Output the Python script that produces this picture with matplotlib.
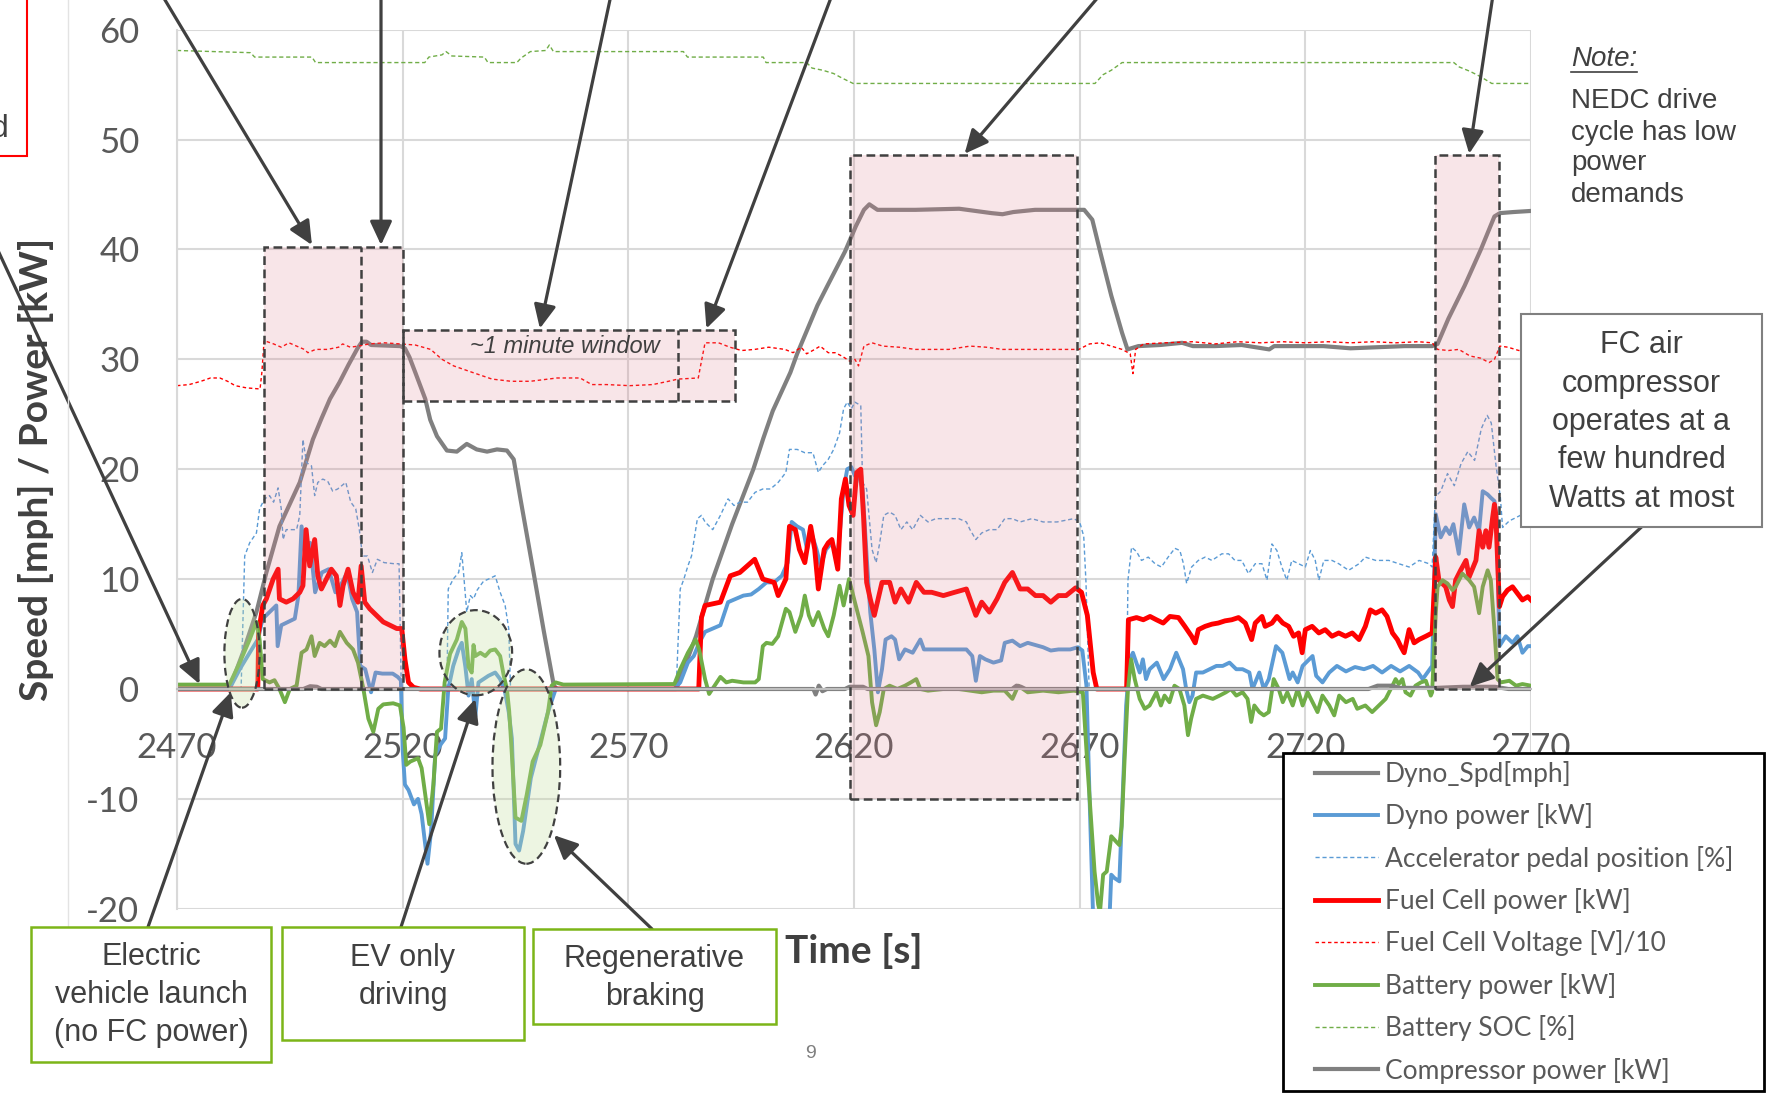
import matplotlib
matplotlib.use("Agg")
import matplotlib.pyplot as plt
from matplotlib.patches import Rectangle, Ellipse
from matplotlib.lines import Line2D

# ---------------- data ----------------
x_ticks = [2470, 2520, 2570, 2620, 2670, 2720, 2770]
y_ticks = [-20, -10, 0, 10, 20, 30, 40, 50, 60]

series_labels = ["Dyno_Spd[mph]", "Dyno power [kW]", "Accelerator pedal position [%]",
                 "Fuel Cell power [kW]", "Fuel Cell Voltage [V]/10", "Battery power [kW]",
                 "Battery SOC [%]", "Compressor power [kW]"]

spd_t = [2470, 2481.6, 2484.6, 2487.6, 2489.8, 2492.7, 2497.2, 2500.1, 2502, 2503.9, 2506, 2508, 2510,
         2511, 2512, 2513, 2519.5, 2520.5, 2521.5, 2522.8, 2525, 2526.1, 2527.6, 2529.8, 2532, 2534.2,
         2536.4, 2538.7, 2540.9, 2543.1, 2544.6, 2546.1, 2549, 2551.3, 2553.5, 2554.2, 2580.6, 2585,
         2588.7, 2593, 2597.7, 2599.9, 2602, 2605.9, 2607.4, 2611.9, 2614, 2616, 2618, 2620.4, 2622.2,
         2623.4, 2625.2, 2633.6, 2643.3, 2646.9, 2650.5, 2652.9, 2655.3, 2660.1, 2671, 2672.8, 2674.6,
         2677, 2679.4, 2680.6, 2683, 2687.8, 2692.7, 2695.1, 2699.9, 2705.9, 2712, 2713.1, 2718, 2724,
         2730, 2736, 2742, 2748.1, 2749.3, 2751.7, 2755.3, 2758.9, 2761.9, 2763.1, 2766.1, 2770]
spd_v = [0, 0, 3.3, 7.0, 10.6, 14.8, 18.8, 22.7, 24.6, 26.4, 27.9, 29.5, 31.0,
         31.6, 31.6, 31.3, 31.2, 31.0, 30.2, 28.8, 26.4, 24.5, 23.0, 21.7, 21.6, 22.3,
         21.8, 21.6, 21.8, 21.7, 20.9, 17.3, 10.6, 5.2, 0.3, 0, 0, 4.8,
         10.0, 15.0, 20.0, 22.8, 25.3, 28.8, 30.5, 34.9, 36.6, 38.2, 39.8, 42.1, 43.6,
         44.1, 43.6, 43.6, 43.7, 43.5, 43.3, 43.2, 43.4, 43.6, 43.6, 42.7, 39.7,
         35.8, 32.4, 30.9, 31.2, 31.3, 31.5, 31.2, 31.2, 31.3, 30.9, 31.2, 31.2, 31.2,
         31.0, 31.1, 31.2, 31.2, 31.4, 33.7, 36.7, 40.0, 43.0, 43.3, 43.4, 43.5]

dyn_t = [2470, 2481.6, 2483.9, 2486.1, 2487.9, 2489, 2490.5, 2492, 2492.3, 2493.1, 2494.6, 2496.1, 2496.9,
         2497.6, 2498.4, 2499.5, 2500.6, 2502.1, 2503.6, 2505.1, 2506.6, 2507.7, 2508.8, 2509.9, 2510.6,
         2511.7, 2513, 2514, 2515.5, 2517.8, 2518.9, 2519.6, 2520, 2520.5, 2521.3, 2522.5, 2523.4, 2524.2,
         2525.5, 2526.3, 2527.2, 2528.5, 2529.4, 2530.1, 2531.2, 2532.4, 2533.1, 2533.9, 2534.6, 2535.3,
         2536.1, 2536.8, 2537.9, 2539, 2540.5, 2541.6, 2542.7, 2543.5, 2544.2, 2545, 2545.8, 2546.7,
         2548.4, 2550.5, 2552.2, 2553.9, 2580.2, 2581.5, 2583.2, 2584.5, 2585.7, 2587, 2588.7, 2590.4,
         2592.1, 2593.8, 2595.5, 2597.2, 2598.9, 2600.6, 2602.3, 2604, 2605.3, 2606.2, 2607.4, 2608.7,
         2609.6, 2610.4, 2611.7, 2612.6, 2613.8, 2615.1, 2616.4, 2617.7, 2618.5, 2619.4, 2620.2, 2621.1,
         2621.9, 2622.8, 2623.6, 2624.5, 2625.3, 2626.2, 2627, 2628.3, 2629.1, 2630, 2631.3, 2633,
         2634.7, 2635.5, 2637.2, 2639.8, 2642.3, 2644.9, 2646.2, 2647, 2647.9, 2649.1, 2650.9, 2652.6,
         2653.4, 2655.1, 2656.8, 2658.5, 2660.2, 2661.9, 2663.6, 2665.3, 2667.9, 2669.6, 2670.6, 2671.5,
         2672.2, 2673, 2676.6, 2677, 2677.7, 2678.8, 2679.6, 2680.3, 2681.1, 2681.8, 2683.3, 2684,
         2684.7, 2685.5, 2687.1, 2688.6, 2690, 2691.4, 2692.9, 2693.6, 2694.3, 2695, 2695.8, 2697.3,
         2698.8, 2700.3, 2701.7, 2703.2, 2704.7, 2706.1, 2707.6, 2708.3, 2709.8, 2710.8, 2711.9, 2713.5,
         2714.9, 2715.7, 2716.5, 2717.2, 2718.3, 2719.4, 2721.6, 2722.4, 2723.8, 2725.3, 2727, 2729,
         2731, 2733, 2735, 2737, 2739, 2741, 2743, 2745, 2746, 2748.1, 2748.9, 2750, 2751.1, 2752,
         2752.8, 2754, 2755.2, 2756.3, 2757.4, 2758.5, 2759.3, 2760.4, 2761.1, 2761.9, 2762.4, 2763,
         2764.4, 2765.9, 2767, 2768.1, 2769.3, 2770]
dyn_v = [0, 0, 1.8, 3.3, 4.5, 6.4, 7.0, 7.6, 3.9, 5.8, 6.1, 6.4, 8.5,
         14.8, 12.1, 13.3, 8.8, 10.6, 10.9, 8.8, 9.7, 10.6, 8.2, 7.0, 2.1,
         1.8, -0.3, 1.5, 1.4, 1.4, 1.1, 0.8, -5.5, -8.7, -9.2, -10.5, -10.0, -11.4,
         -15.9, -12.9, -6.0, -5.0, -4.5, 0, 2.1, 3.6, 4.2, 2.0, -0.6, 0.9,
         -2.5, 0.6, 0.9, 1.2, 1.5, 0.9, -0.3, -2.1, -4.5, -14.1, -14.7, -12.9,
         -8.1, -4.8, -2.1, 0, 0, 0.6, 2.4, 3.0, 4.2, 5.2, 5.5, 5.8,
         7.9, 8.2, 8.5, 8.6, 9.1, 9.7, 9.7, 10.3, 11.5, 15.2, 14.8, 14.5,
         12.7, 14.4, 12.7, 11.2, 12.7, 13.3, 12.1, 18.2, 20.0, 20.2, 19.4, 19.4,
         18.2, 12.1, 7.0, 3.6, -0.3, 1.8, 4.5, 4.8, 4.5, 2.7, 3.6, 3.3,
         4.5, 3.6, 3.6, 3.6, 3.6, 3.6, 3.0, 0.75, 3.0, 2.7, 2.4, 2.6,
         4.2, 4.4, 3.9, 4.2, 4.0, 3.8, 3.5, 3.6, 3.6, 3.8, 3.5, 0.3,
         -10.0, -21.0, -21.0, -16.9, -17.2, -17.5, -9.0, -1.5, 2.7, 3.3, 1.5, 2.7,
         0.9, 1.8, 2.4, 0.9, 1.8, 3.3, 1.8, 0, -1.2, -0.6, 1.5, 1.5,
         1.8, 2.1, 2.1, 2.4, 1.8, 1.8, 1.5, 0, 1.5, 0, 0.9, 3.9,
         3.3, 2.1, 0.9, 1.5, 0.6, 2.1, 3.0, 1.2, 0.6, 1.5, 2.1, 1.6,
         2.0, 1.8, 2.1, 1.5, 2.1, 1.6, 2.1, 1.5, 0.9, 2.1, 15.9, 13.8, 14.7, 14.1,
         15.0, 12.3, 16.8, 14.7, 15.6, 14.4, 18.0, 17.7, 17.4, 17.1, 15.5, 3.9,
         4.8, 4.2, 4.8, 3.3, 3.9, 3.9]

ped_t = [2470, 2484.2, 2485, 2486.1, 2487.6, 2488.3, 2489.4, 2490.5, 2491.4, 2492.4, 2493.1, 2493.5,
         2494.2, 2496.5, 2497.2, 2497.9, 2498.7, 2499.8, 2500.5, 2501.2, 2502.3, 2503.4, 2504.5, 2505.6,
         2507.4, 2508.5, 2509.6, 2510.4, 2511.1, 2512.2, 2513.3, 2514.4, 2515.9, 2518.1, 2519.2, 2519.7,
         2529.8, 2530.1, 2531.2, 2532.4, 2533.1, 2533.6, 2534.2, 2535, 2535.7, 2536.5, 2537.9, 2539,
         2540.5, 2541.6, 2542.7, 2543.5, 2543.9, 2580.6, 2581.5, 2582.3, 2583.2, 2584, 2585.3, 2586.2,
         2587, 2588.7, 2590.4, 2592.1, 2593.4, 2594.7, 2596.4, 2598.1, 2599.8, 2601.5, 2603.2, 2604.9,
         2605.7, 2607.4, 2609.1, 2610.9, 2612.1, 2613, 2614.3, 2615.5, 2616.8, 2617.7, 2618.5, 2619.4,
         2620.2, 2621.5, 2621.9, 2622.8, 2624, 2624.9, 2625.7, 2626.6, 2627.9, 2629.1, 2630.4, 2631.7,
         2633, 2634.7, 2636.4, 2638.1, 2640, 2643.2, 2644.9, 2645.7, 2647, 2648.3, 2650, 2651.7,
         2653.4, 2655.1, 2656.8, 2659.4, 2661.9, 2665, 2668.7, 2670, 2670.9, 2671.4, 2672.1, 2680.4,
         2680.7, 2681.5, 2682.6, 2683.7, 2685.2, 2686.7, 2688.1, 2689.6, 2691.1, 2692.2, 2693, 2693.7,
         2694.8, 2696.3, 2697.8, 2699.3, 2701.5, 2703, 2704.4, 2705.9, 2707.4, 2708.9, 2710.4, 2711.5,
         2712.6, 2713.7, 2714.8, 2715.9, 2717, 2718.5, 2720, 2721.1, 2722.2, 2723, 2724.1, 2725.9,
         2727.4, 2729.6, 2731.9, 2733.3, 2735.6, 2738.5, 2740.7, 2743, 2745.2, 2747.4, 2748.1, 2748.8,
         2750, 2751.5, 2753, 2754.5, 2756, 2757.5, 2759, 2760.3, 2761.2, 2762.2, 2763.2, 2763.7,
         2765.2, 2766.7, 2768.1, 2770]
ped_v = [0, 0, 12.1, 13.3, 14.2, 16.4, 17.3, 17.6, 17.0, 18.3, 16.4, 13.6,
         14.5, 14.5, 15.8, 22.7, 20.6, 20.3, 17.6, 18.8, 19.1, 18.9, 18.0, 18.2,
         18.8, 17.0, 16.4, 14.5, 12.1, 12.1, 10.6, 11.8, 11.5, 11.4, 11.4, 0,
         0, 9.1, 10.0, 10.6, 12.4, 10.0, 7.0, 8.5, 8.2, 9.0, 9.8, 10.0,
         10.3, 8.8, 7.6, 5.5, 0, 0, 9.1, 10.0, 11.2, 12.1, 15.5, 15.8,
         15.2, 14.5, 15.8, 17.3, 16.7, 17.0, 17.0, 17.9, 18.2, 18.2, 18.8, 19.7,
         21.8, 21.8, 21.5, 21.5, 19.7, 20.3, 20.9, 21.8, 23.3, 25.5, 26.1, 25.5,
         26.1, 25.8, 18.8, 18.2, 12.7, 11.5, 13.3, 15.8, 16.1, 15.8, 14.5, 15.2,
         14.5, 15.8, 15.2, 15.5, 15.5, 15.5, 15.2, 14.5, 13.6, 14.2, 14.5, 14.5,
         15.5, 15.5, 15.2, 15.5, 15.2, 15.2, 15.5, 15.2, 13.9, 9.7, 0, 0,
         9.9, 12.9, 12.5, 11.7, 12.0, 11.4, 11.1, 12.0, 12.8, 12.6, 11.4, 9.6,
         11.1, 11.7, 12.0, 11.7, 12.3, 12.3, 11.7, 11.7, 10.5, 11.4, 11.4, 9.9,
         13.2, 12.6, 11.1, 9.9, 11.7, 11.4, 11.1, 12.6, 11.7, 9.9, 11.7, 11.7,
         11.4, 10.8, 11.4, 12.0, 11.7, 11.7, 11.4, 11.1, 11.7, 11.4, 11.1, 17.5,
         18.0, 19.6, 18.5, 20.5, 21.6, 20.8, 23.7, 24.9, 24.2, 20.5, 17.5, 14.7,
         15.3, 15.6, 15.9, 15.9]

fc_t = [2470, 2487.9, 2488.1, 2489, 2489.8, 2491.3, 2492.4, 2492.7, 2494.2, 2495.7, 2497.2, 2497.9,
        2498.6, 2499.4, 2500.5, 2501.2, 2502, 2503.1, 2504.2, 2505.3, 2506.1, 2506.8, 2507.9, 2509,
        2510.1, 2510.8, 2511.6, 2512.7, 2514.2, 2515.7, 2517.2, 2518.7, 2519.8, 2520.5, 2521.3, 2522.4,
        2523.9, 2585.6, 2586.2, 2587, 2590.4, 2592.6, 2594.7, 2598, 2599.8, 2602.3, 2603.2, 2604.9,
        2605.7, 2607, 2607.9, 2609.1, 2610.4, 2611.3, 2612.1, 2613.4, 2614.3, 2615.1, 2616.4, 2617.2,
        2618.1, 2618.9, 2619.8, 2620.6, 2621.5, 2622.1, 2622.8, 2623.6, 2624.5, 2626.2, 2627.9, 2629.1,
        2630.4, 2632.1, 2633.8, 2635.5, 2637.2, 2639.8, 2642.3, 2644.9, 2647, 2648.3, 2650, 2651.7,
        2653.4, 2655.1, 2656.8, 2658.5, 2660.2, 2661.9, 2663.6, 2665.3, 2667, 2669.1, 2670.4, 2671.7,
        2673, 2673.8, 2680.4, 2680.8, 2682.6, 2684.1, 2685.6, 2687, 2688.5, 2690, 2691.9, 2693.3,
        2694.8, 2695.6, 2696.3, 2697.8, 2699.3, 2700.7, 2702.2, 2703.7, 2705.2, 2706.7, 2708.1, 2708.9,
        2710.4, 2711.1, 2712.6, 2713.7, 2715, 2716.3, 2717.4, 2718.5, 2719.3, 2720, 2721.5, 2723,
        2724.4, 2725.9, 2727.4, 2728.9, 2730.4, 2731.9, 2733.3, 2734.4, 2735.6, 2737, 2738.1, 2739.3,
        2740.4, 2741.1, 2741.9, 2743, 2744.1, 2745.2, 2746.7, 2748.1, 2748.9, 2749.6, 2751.1, 2751.9,
        2752.6, 2753.3, 2754.4, 2755.6, 2756.3, 2757.8, 2758.5, 2759.3, 2760, 2760.7, 2761.5, 2761.9,
        2762.2, 2763, 2763.7, 2764.8, 2765.9, 2767, 2768.1, 2769.3, 2770]
fc_v = [0, 0, 5.2, 7.6, 8.2, 10.0, 10.9, 8.2, 7.9, 8.2, 8.8, 9.4,
        14.5, 11.2, 13.6, 10.3, 9.1, 10.0, 10.9, 10.3, 7.6, 9.4, 10.9, 8.8,
        7.9, 11.2, 7.9, 7.3, 6.7, 6.1, 5.8, 5.5, 5.5, 2.7, 0.6, 0.15,
        0, 0, 6.5, 7.6, 7.9, 10.3, 10.6, 11.8, 10.0, 9.7, 8.5, 10.0,
        14.8, 14.5, 12.7, 11.5, 14.8, 12.7, 9.1, 12.7, 13.3, 13.6, 10.9, 17.3,
        19.1, 16.7, 15.8, 19.7, 20.0, 15.8, 9.7, 8.2, 6.7, 9.7, 9.7, 7.9,
        9.1, 7.9, 9.7, 8.8, 8.8, 8.5, 8.8, 9.1, 6.7, 7.9, 7.0, 8.2,
        9.7, 10.6, 9.1, 9.1, 8.5, 8.5, 7.9, 8.5, 8.5, 9.2, 8.8, 6.7,
        1.5, 0, 0, 6.3, 6.5, 6.3, 6.6, 6.3, 6.0, 6.6, 6.5, 5.7,
        4.8, 4.2, 5.4, 5.7, 5.9, 6.0, 6.2, 6.3, 6.5, 6.0, 4.5, 6.0,
        6.6, 5.7, 6.0, 6.6, 6.0, 5.7, 4.8, 5.1, 3.3, 5.4, 5.7, 5.1,
        5.4, 4.8, 5.1, 4.8, 5.1, 4.5, 5.7, 7.2, 6.9, 7.2, 6.6, 5.1,
        4.5, 3.9, 3.3, 5.4, 4.2, 4.5, 4.8, 5.1, 12.0, 9.9, 9.3, 8.1,
        7.5, 9.9, 10.8, 11.7, 10.2, 11.7, 14.4, 12.9, 14.4, 12.9, 15.6, 16.8,
        15.9, 7.5, 8.4, 9.0, 9.3, 8.7, 8.1, 8.4, 8.1]

vol_t = [2470, 2472.7, 2475.3, 2477.4, 2479.5, 2481.2, 2482.9, 2485.4, 2488.4, 2488.8, 2489.3, 2491.4,
         2493.1, 2494.8, 2496.5, 2498.2, 2499, 2500.7, 2503.3, 2505.8, 2506.7, 2508.4, 2510.1, 2512.6,
         2516, 2519.4, 2522.8, 2526.2, 2528.7, 2531.3, 2535.5, 2539.8, 2544, 2548.3, 2554.2, 2559.3,
         2561.9, 2565.2, 2570.3, 2575.4, 2578.9, 2581, 2585.5, 2586, 2587, 2590, 2592.5, 2595.1,
         2598, 2601.1, 2604.7, 2606.5, 2608.3, 2609.5, 2611.3, 2612.5, 2614.3, 2615.8, 2617.3, 2619.2,
         2620.2, 2621, 2622.2, 2624, 2626.4, 2630, 2633.6, 2637.2, 2641, 2645.7, 2649.3, 2652.9,
         2657.7, 2662.5, 2667.3, 2669.8, 2672.2, 2674.6, 2677, 2679.4, 2681.2, 2681.8, 2682.4, 2684.2,
         2689, 2695, 2700, 2705, 2710, 2715, 2720, 2725, 2730, 2735, 2740, 2745,
         2748.1, 2749.3, 2751.7, 2754, 2756.5, 2758.9, 2760.7, 2761.9, 2763.1, 2764.9, 2767.3, 2770]
vol_v = [27.6, 27.7, 28.0, 28.3, 28.3, 28.0, 27.6, 27.4, 27.3, 28.8, 31.7, 31.4,
         31.1, 31.5, 31.2, 30.9, 30.6, 30.9, 30.9, 31.1, 31.4, 31.1, 31.2, 31.4,
         31.5, 31.4, 31.3, 30.9, 30.0, 29.4, 28.8, 28.2, 28.0, 28.0, 28.3, 28.3,
         27.7, 27.7, 27.6, 27.7, 28.0, 28.2, 28.3, 29.4, 31.5, 31.5, 31.1, 30.8,
         30.9, 31.1, 30.9, 30.6, 31.1, 30.5, 30.9, 31.2, 30.6, 30.6, 30.3, 29.8,
         30.0, 29.4, 31.2, 31.5, 31.2, 31.1, 30.9, 30.9, 30.9, 31.2, 31.1, 30.9,
         30.9, 30.9, 30.9, 30.9, 31.4, 31.5, 31.2, 30.9, 30.5, 28.7, 30.9, 31.4,
         31.5, 31.6, 31.4, 31.6, 31.5, 31.6, 31.5, 31.6, 31.5, 31.6, 31.5, 31.6,
         31.5, 30.9, 30.8, 30.9, 30.3, 30.1, 29.7, 30.0, 31.2, 31.1, 30.8, 30.9]

bat_t = [2470, 2481.6, 2483.9, 2486.1, 2487.6, 2488.3, 2489, 2490.5, 2491.6, 2492.7, 2493.9, 2495,
         2496.5, 2497.6, 2498.7, 2499.8, 2500.5, 2501.6, 2502.7, 2503.9, 2505, 2506.1, 2507.6, 2509,
         2510.1, 2511.3, 2512.4, 2513.5, 2514.6, 2515.7, 2517.9, 2519.4, 2520.2, 2520.8, 2521.7, 2523.4,
         2524.2, 2525.1, 2525.9, 2526.8, 2527.6, 2528.5, 2529.3, 2530.5, 2532, 2533.1, 2533.9, 2534.6,
         2535.3, 2535.7, 2536.1, 2537.2, 2538.3, 2539.4, 2540.5, 2541.6, 2542.4, 2543.1, 2543.6, 2544.2,
         2545, 2546.3, 2547.5, 2548.8, 2550.5, 2552.2, 2553, 2553.9, 2555.6, 2580.2, 2581.5, 2583.2,
         2584.9, 2585.7, 2587, 2587.9, 2589.1, 2590.4, 2591.7, 2593, 2595.5, 2598.1, 2598.9, 2599.8,
         2600.6, 2601.9, 2603.2, 2604.9, 2605.7, 2607, 2608.3, 2609.1, 2610, 2610.9, 2612.1, 2613.4,
         2614.3, 2615.5, 2616.8, 2617.7, 2618.9, 2620.2, 2621.9, 2623.2, 2624, 2624.9, 2625.7, 2626.6,
         2627.9, 2629.6, 2631.3, 2632.6, 2633.8, 2634.7, 2636.4, 2639.8, 2643.2, 2645.7, 2648.3, 2650.9,
         2653.4, 2655.1, 2656.4, 2658.5, 2661.9, 2665.3, 2668.7, 2670.7, 2671.8, 2672.6, 2673.3, 2674.1,
         2674.5, 2675.2, 2676, 2677, 2678.1, 2678.8, 2679.3, 2680, 2680.7, 2681.4, 2682.2, 2683.3,
         2684.4, 2685.5, 2687, 2688, 2688.8, 2689.9, 2691, 2692.1, 2693.2, 2694, 2694.7, 2695.8,
         2697.3, 2699.5, 2701, 2702.4, 2703.5, 2704.7, 2706.1, 2707.2, 2708, 2708.7, 2709.8, 2710.8,
         2711.9, 2713, 2714.1, 2715, 2716, 2717.2, 2718.3, 2719.4, 2720.5, 2721.6, 2722.7, 2723.8,
         2725.3, 2726.4, 2727.5, 2729, 2730.5, 2731.5, 2733.3, 2734.8, 2736.3, 2737.8, 2739.3, 2740,
         2740.7, 2741.5, 2742.2, 2743.3, 2744.4, 2745.6, 2746.7, 2747.8, 2748.1, 2748.9, 2749.3, 2750.4,
         2751.5, 2752.6, 2753.3, 2754.8, 2756.3, 2757.4, 2758.5, 2759.3, 2760.4, 2761.1, 2761.9, 2762.6,
         2763.3, 2765.2, 2766.7, 2768.1, 2770]
bat_v = [0.4, 0.4, 2.4, 4.5, 6.1, 4.5, 0.9, 0.6, 0.8, 0, -1.2, 0,
         0.3, 3.3, 3.6, 4.8, 3.0, 4.2, 3.9, 4.4, 3.9, 5.2, 4.2, 3.6,
         2.4, 0, -2.7, -3.9, -1.8, -1.4, -1.3, -1.5, -3.5, -6.9, -6.6, -6.3,
         -7.2, -9.9, -12.3, -8.7, -3.9, -3.6, 0.6, 3.2, 4.5, 6.1, 5.5, 2.0,
         1.5, 4.0, 3.0, 3.3, 3.0, 3.5, 3.6, 3.0, 1.2, 0, -2.0, -6.0,
         -11.7, -12.0, -9.6, -6.6, -5.1, -2.1, 0.3, 0.6, 0.4, 0.45, 1.8, 3.3,
         4.5, 3.6, 0.9, -0.45, 0.3, 1.1, 0.6, 0.75, 0.6, 0.6, 0.9, 3.9,
         4.2, 4.1, 4.8, 7.3, 7.0, 5.2, 6.7, 8.5, 6.7, 5.8, 7.0, 5.5,
         4.8, 6.7, 9.4, 7.6, 10.0, 7.9, 5.2, 3.0, -1.2, -3.3, -2.1, 0,
         0.3, 0, 0.3, 0.6, 0.9, 0, -0.15, 0, 0, -0.15, -0.3, -0.15,
         -0.15, -0.9, 0.3, -0.3, -0.15, -0.3, -0.15, -0.3, -7.5, -12.4, -16.6, -19.6,
         -20.3, -16.9, -16.6, -13.4, -13.9, -14.2, -12.5, -6.0, 0, 2.7, 0.9, -0.9,
         -1.8, -1.5, -0.3, -1.5, -0.6, -1.2, 0.3, 0, -1.5, -4.2, -2.7, -0.9,
         -0.6, -0.9, -0.6, -0.3, 0, -0.6, -0.3, -0.9, -3.0, -1.5, -2.1, -2.4,
         -2.1, 0.9, 0, -1.2, -0.3, -1.5, 0, -1.5, -0.3, -1.2, -2.1, -0.6,
         -1.5, -2.4, -0.6, -1.2, -0.9, -1.8, -1.5, -2.1, -1.5, -0.9, 0.3, 0.9,
         0.45, 0.9, -0.3, -0.6, 0.3, 0.6, 0.75, -0.6, -0.3, 6.9, 9.3, 9.9,
         9.6, 9.0, 9.3, 10.5, 9.9, 9.3, 6.9, 9.3, 10.8, 9.9, 5.4, 0.9,
         0.6, 0.75, 0.3, 0.45, 0.3]

soc_t = [2470, 2486.3, 2487.2, 2499.9, 2500.7, 2524.9, 2525.8, 2528.7, 2529.6, 2530.9, 2538.1, 2538.9,
         2545.3, 2546.2, 2548.3, 2551.7, 2552.5, 2553.4, 2582.2, 2583.1, 2599.9, 2600.5, 2609.5, 2610.7,
         2613.1, 2615.5, 2617.3, 2619.8, 2673.4, 2675.2, 2677, 2679.4, 2752.9, 2754.1, 2756.5, 2758.9,
         2761.3, 2770]
soc_v = [58.1, 57.9, 57.5, 57.5, 57.0, 57.0, 57.5, 57.7, 58.0, 57.6, 57.5, 57.0,
         57.0, 57.4, 58.0, 58.1, 58.6, 58.0, 58.0, 57.5, 57.5, 57.0, 57.0, 56.5,
         56.3, 56.0, 55.6, 55.1, 55.1, 55.9, 56.3, 57.0, 57.0, 56.6, 56.2, 55.7,
         55.1, 55.1]

cmp_t = [2470, 2498, 2499.5, 2501, 2502, 2611, 2611.5, 2612.2, 2613, 2614, 2618, 2619, 2622, 2623,
         2655, 2656, 2657, 2658, 2734, 2736, 2739, 2741, 2749, 2755, 2762, 2765, 2770]
cmp_v = [0, 0, 0.25, 0.2, 0, 0, -0.5, 0.3, -0.2, 0, 0, 0.2, 0.2, 0,
         0, 0.3, 0.2, 0, 0, 0.3, 0.3, 0.1, 0.1, 0.2, 0.2, 0, 0]

# ---------------- styling / layout ----------------
W, H, DPI = 1768, 1095, 100
GRAY, BLUE, RED, GREEN = "#808080", "#5b9bd5", "#ff0000", "#70ad47"
DARK = "#404040"
ARIAL = ["Liberation Sans", "DejaVu Sans"]
plt.rcParams["font.family"] = ["Lato", "DejaVu Sans"]
plt.rcParams["axes.unicode_minus"] = False


def fx(x):
    return x / W


def fy(y):
    return 1 - y / H


fig = plt.figure(figsize=(W / DPI, H / DPI), dpi=DPI)
fig.patch.set_facecolor("white")
ax = fig.add_axes([fx(177), fy(908.8), fx(1531) - fx(177), fy(29.6) - fy(908.8)])
ax.set_xlim(2470, 2770)
ax.set_ylim(-20, 60)
ax.set_xticks(x_ticks)
ax.set_yticks(y_ticks)
ax.grid(True, color="#d9d9d9", lw=1.5)
ax.set_axisbelow(True)
for s in ["top", "right"]:
    ax.spines[s].set_visible(False)
ax.spines["left"].set_color("#d9d9d9")
ax.spines["left"].set_linewidth(1.5)
ax.spines["bottom"].set_position(("data", 0))
ax.spines["bottom"].set_color("#bfbfbf")
ax.spines["bottom"].set_linewidth(1.5)
ax.tick_params(length=0, labelsize=25, labelcolor="#595959")
ax.tick_params(axis="x", pad=31)
ax.tick_params(axis="y", pad=27)

styles = [dict(color=GRAY, lw=3.0),
          dict(color=BLUE, lw=2.8),
          dict(color=BLUE, lw=1.0, ls=(0, (3, 2))),
          dict(color=RED, lw=3.5),
          dict(color=RED, lw=1.0, ls=(0, (2.5, 2))),
          dict(color=GREEN, lw=2.8),
          dict(color=GREEN, lw=1.0, ls=(0, (3, 2))),
          dict(color=GRAY, lw=3.0)]
series = [(spd_t, spd_v), (dyn_t, dyn_v), (ped_t, ped_v), (fc_t, fc_v),
          (vol_t, vol_v), (bat_t, bat_v), (soc_t, soc_v), (cmp_t, cmp_v)]
handles = []
for (tt, vv), st, lab in zip(series, styles, series_labels):
    ln, = ax.plot(tt, vv, label=lab, zorder=2, **st)
    handles.append(ln)

# pink highlight boxes (semi-transparent, on top of data) with dashed borders
PINK = (220 / 255, 125 / 255, 140 / 255, 0.2)
DASH = (0, (3.5, 1.8))
boxes = [(2489.3, 2520, 0, 40.24), (2520, 2593.7, 26.2, 32.7),
         (2619.2, 2669.3, -10, 48.6), (2748.7, 2763, 0, 48.6)]
for x0, x1, y0, y1 in boxes:
    ax.add_patch(Rectangle((x0, y0), x1 - x0, y1 - y0, facecolor=PINK, edgecolor="none", zorder=3))
    ax.add_patch(Rectangle((x0, y0), x1 - x0, y1 - y0, facecolor="none", edgecolor=DARK,
                           lw=1.8, ls=DASH, zorder=4))
for xd, y0, y1 in [(2510.8, 0, 40.24), (2581.0, 26.2, 32.7)]:
    ax.plot([xd, xd], [y0, y1], color=DARK, lw=1.8, ls=DASH, zorder=4)
ax.text(2555.9, 31.2, "~1 minute window", style="italic", family=ARIAL, fontsize=17,
        color=DARK, ha="center", va="center", zorder=5)

# green ellipses
GFILL = (198 / 255, 222 / 255, 162 / 255, 0.3)
for cx, cy, w, h in [(2484.4, 3.25, 7.8, 9.9), (2536.2, 3.3, 16.1, 7.75), (2547.4, -7.05, 15, 17.7)]:
    ax.add_patch(Ellipse((cx, cy), w, h, facecolor=GFILL, edgecolor=DARK, lw=1.6,
                         ls=(0, (3.5, 2)), zorder=4))

# arrows: (tail in top-left figure pixels, tip in data)
arrows = [((162, -5), (2499.9, 40.4)), ((381, -5), (2515.2, 40.4)), ((611, -5), (2550.4, 32.8)),
          ((832, -5), (2587.3, 32.8)), ((1100, -5), (2644.5, 48.7)), ((1493, -5), (2756.3, 48.7)),
          ((-5, 244), (2475, 0.45)), ((148, 927), (2481.9, -0.3)), ((401, 927), (2536.1, -0.9)),
          ((652, 929), (2553.5, -13.3)), ((1641.5, 527), (2756.4, 0.2))]
for (px, py), tip in arrows:
    ax.annotate("", xy=tip, xycoords="data", xytext=(px, H - py), textcoords="figure pixels",
                arrowprops=dict(arrowstyle="-|>,head_length=0.9,head_width=0.42", color=DARK,
                                lw=2.3, mutation_scale=16, shrinkA=0, shrinkB=0),
                annotation_clip=False, zorder=6)

# axis titles
fig.text(fx(36), fy(469), "Speed [mph] / Power [kW]", rotation=90, ha="center", va="center",
         fontsize=28, fontweight="bold", color=DARK)
fig.text(fx(853.6), fy(950.6), "Time [s]", ha="center", va="center", fontsize=28,
         fontweight="bold", color=DARK)


def fig_box(x0, y0, x1, y1, ec, lw=1.8):
    fig.patches.append(Rectangle((fx(x0), fy(y1)), fx(x1) - fx(x0), fy(y0) - fy(y1),
                                 transform=fig.transFigure, facecolor="white", edgecolor=ec,
                                 lw=lw, zorder=4.5))


BOXGREEN = "#7cb518"
LS = 1.36
fig_box(31, 927, 271, 1062, BOXGREEN)
fig.text(fx(151), fy(995), "Electric\nvehicle launch\n(no FC power)", ha="center", va="center",
         family=ARIAL, fontsize=22, color=DARK, linespacing=LS, zorder=6)
fig_box(282, 927, 524, 1040, BOXGREEN)
fig.text(fx(403), fy(977), "EV only\ndriving", ha="center", va="center",
         family=ARIAL, fontsize=22, color=DARK, linespacing=LS, zorder=6)
fig_box(533, 929, 776, 1024, BOXGREEN)
fig.text(fx(654.5), fy(978), "Regenerative\nbraking", ha="center", va="center",
         family=ARIAL, fontsize=22, color=DARK, linespacing=LS, zorder=6)
fig_box(1521, 314, 1762, 527, "#808080", lw=1.5)
fig.text(fx(1641.5), fy(422), "FC air\ncompressor\noperates at a\nfew hundred\nWatts at most",
         ha="center", va="center", family=ARIAL, fontsize=22, color=DARK, linespacing=LS, zorder=6)

# note
fig.text(fx(1571), fy(59), "Note:", style="italic", family=ARIAL, fontsize=20, color=DARK,
         ha="left", va="center")
fig.add_artist(Line2D([fx(1571), fx(1637)], [fy(72), fy(72)], transform=fig.transFigure,
                      color=DARK, lw=1.2))
fig.text(fx(1571), fy(148), "NEDC drive\ncycle has low\npower\ndemands", family=ARIAL,
         fontsize=20, color=DARK, ha="left", va="center", linespacing=1.25)

# cropped red text box in top-left corner and slide edge line
fig.patches.append(Rectangle((fx(-5), fy(156)), fx(27) - fx(-5), fy(-5) - fy(156),
                             transform=fig.transFigure, facecolor="none", edgecolor=RED, lw=1.5,
                             zorder=4.5))
fig.text(fx(8), fy(137), "d", ha="right", va="baseline", family=ARIAL, fontsize=23, color=DARK)
fig.add_artist(Line2D([fx(68), fx(68)], [fy(0), fy(927)], transform=fig.transFigure,
                      color="#e3e3e3", lw=1.0, zorder=0.5))

# page number
fig.text(fx(810), fy(1054), "9", ha="center", va="center", family=ARIAL, fontsize=14, color="#7f7f7f")

# legend with a separate black frame
fig_box(1283, 753, 1764, 1091, "black", lw=2.0)
leg = fig.legend(handles=handles, labels=series_labels, loc="upper left",
                 bbox_to_anchor=(fx(1315), fy(761)), borderpad=0, borderaxespad=0,
                 frameon=False, handlelength=63 / 26.4, handletextpad=7 / 26.4,
                 labelspacing=0.62, prop={"size": 19})
leg.set_zorder(7)
for t in leg.get_texts():
    t.set_color("#595959")

fig.savefig("out.png", dpi=DPI, facecolor="white")
